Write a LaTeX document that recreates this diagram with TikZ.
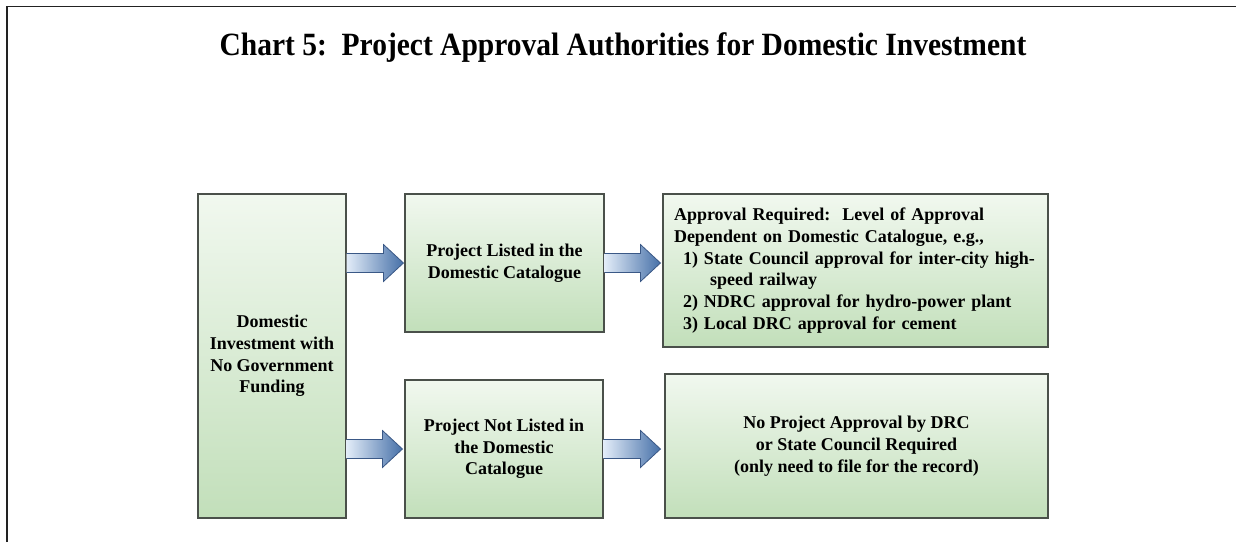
\documentclass[tikz,border=0pt]{standalone}
\usepackage{fontspec}
\setmainfont{Liberation Serif}
\usetikzlibrary{calc,shadows}
\definecolor{boxtop}{HTML}{F1F8EF}
\definecolor{boxbot}{HTML}{C2DFBA}
\definecolor{boxline}{HTML}{4A504A}
\definecolor{arrL}{HTML}{E2ECF8}
\definecolor{arrR}{HTML}{4670A8}
\definecolor{arrline}{HTML}{3A5886}
\definecolor{frameline}{HTML}{222222}
\newcommand{\myblockarrow}[2]{%
  \draw[barrow] ($(#1)+(0,-9.5)$) -- ($(#2)+(-20,-9.5)$) -- ($(#2)+(-20,-18.5)$)
    -- (#2) -- ($(#2)+(-20,18.5)$) -- ($(#2)+(-20,9.5)$) -- ($(#1)+(0,9.5)$);}
\begin{document}
\begin{tikzpicture}[x=1pt,y=-1pt,
  box/.style={draw=boxline, line width=1.1pt, top color=boxtop, bottom color=boxbot,
    font=\fontsize{18}{21.7}\selectfont\bfseries, align=center, inner sep=0pt,
    drop shadow={opacity=0.22, shadow xshift=1.3pt, shadow yshift=-1.3pt}},
  barrow/.style={draw=arrline, line width=0.8pt, left color=arrL, right color=arrR, line join=miter},
  titlestyle/.style={font=\fontsize{29.5}{35}\selectfont\bfseries, inner sep=0pt},
]
\useasboundingbox (0,0) rectangle (1236,542);
\fill[white] (0,0) rectangle (1236,542);
\draw[frameline, line width=1.6pt] (7,542) -- (7,6.5) -- (1236,6.5);

\node[titlestyle] (title) at (623,48) {\scalebox{1}[1.1]{Chart 5:\ \ Project Approval Authorities for Domestic Investment}};

\node[box, minimum width=148pt, minimum height=324pt] (L) at (272,356)
  {Domestic\\Investment with\\No Government\\Funding};
\node[box, minimum width=199pt, minimum height=138pt] (M1) at (504.5,263)
  {Project Listed in the\\Domestic Catalogue};
\node[box, minimum width=198pt, minimum height=138pt] (M2) at (504,449)
  {Project Not Listed in\\the Domestic\\Catalogue};
\node[box, align=left, text width=363pt, inner xsep=11pt, inner ysep=0pt,
  minimum height=153pt] (R1) at (855.5,270.5)
  {Approval Required:\ \ Level of Approval\\
   Dependent on Domestic Catalogue, e.g.,\\
   \hspace*{9pt}1) State Council approval for inter-city high-\\
   \hspace*{36pt}speed railway\\
   \hspace*{9pt}2) NDRC approval for hydro-power plant\\
   \hspace*{9pt}3) Local DRC approval for cement};
\node[box, minimum width=383pt, minimum height=144pt] (R2) at (856.5,446)
  {No Project Approval by DRC\\or State Council Required\\(only need to file for the record)};

\coordinate (s1) at (L.east |- M1.west);
\coordinate (t1) at ($(M1.west)+(-1,0)$);
\myblockarrow{s1}{t1}
\coordinate (s2) at (M1.east);
\coordinate (t2) at ($(R1.west |- M1.east)+(-2,0)$);
\myblockarrow{s2}{t2}
\coordinate (s3) at (L.east |- M2.west);
\coordinate (t3) at ($(M2.west)+(-2,0)$);
\myblockarrow{s3}{t3}
\coordinate (s4) at (M2.east);
\coordinate (t4) at ($(R2.west |- M2.east)+(-4,0)$);
\myblockarrow{s4}{t4}
\end{tikzpicture}
\end{document}
